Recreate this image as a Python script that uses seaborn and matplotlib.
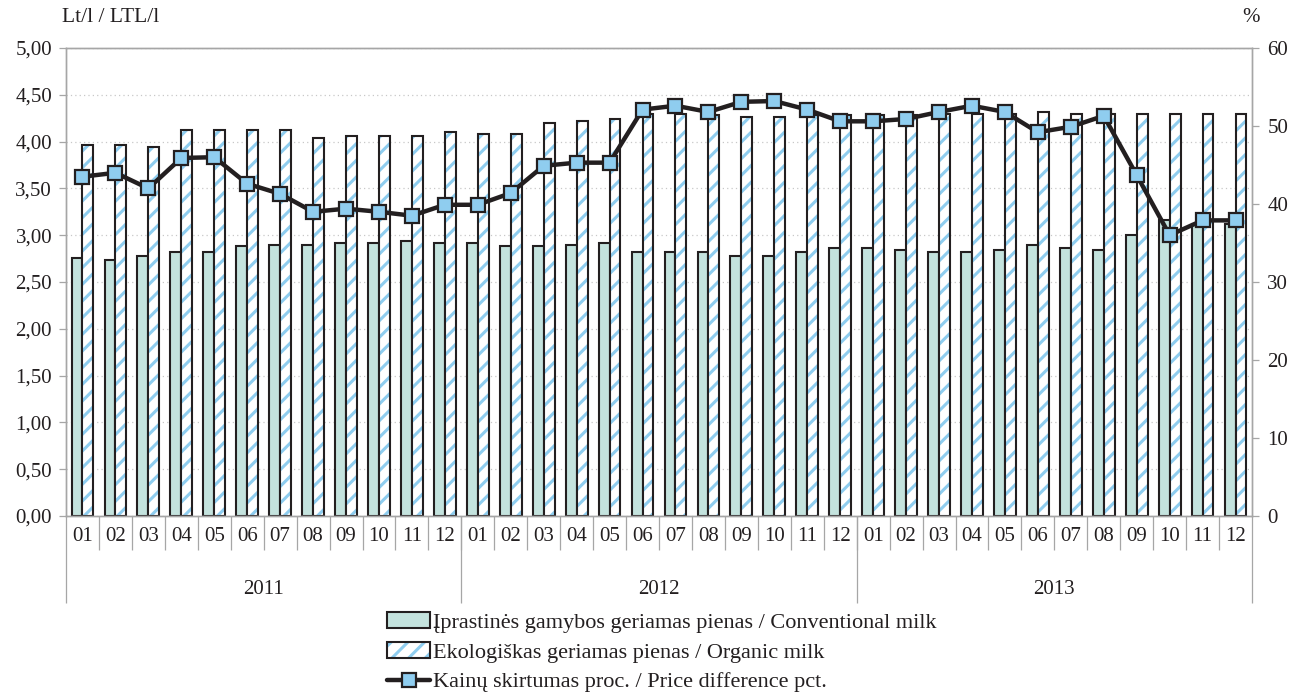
import numpy as np
import pandas as pd
import matplotlib.pyplot as plt
import matplotlib.transforms as mtransforms
from matplotlib.colors import to_rgba
import seaborn as sns

years = ['2011', '2012', '2013']
months = ['01', '02', '03', '04', '05', '06', '07', '08', '09', '10', '11', '12']

conv_name = 'Įprastinės gamybos geriamas pienas / Conventional milk'
org_name = 'Ekologiškas geriamas pienas / Organic milk'
line_name = 'Kainų skirtumas proc. / Price difference pct.'

# Lt/l
conventional = [2.76, 2.74, 2.78, 2.82, 2.82, 2.88, 2.90, 2.90, 2.92, 2.92, 2.94, 2.92,
                2.92, 2.88, 2.88, 2.90, 2.92, 2.82, 2.82, 2.82, 2.78, 2.78, 2.82, 2.86,
                2.86, 2.84, 2.82, 2.82, 2.84, 2.90, 2.86, 2.84, 3.00, 3.16, 3.12, 3.12]
organic = [3.96, 3.96, 3.94, 4.12, 4.12, 4.12, 4.12, 4.04, 4.06, 4.06, 4.06, 4.10,
           4.08, 4.08, 4.20, 4.22, 4.24, 4.29, 4.30, 4.28, 4.26, 4.26, 4.28, 4.28,
           4.28, 4.28, 4.30, 4.30, 4.30, 4.32, 4.30, 4.30, 4.30, 4.30, 4.30, 4.30]
# %
price_diff = [43.5, 44.0, 42.0, 45.9, 46.0, 42.6, 41.3, 39.0, 39.4, 39.0, 38.5, 39.9,
              39.9, 41.4, 44.9, 45.3, 45.3, 52.1, 52.6, 51.8, 53.1, 53.2, 52.1, 50.6,
              50.6, 50.9, 51.8, 52.6, 51.8, 49.2, 49.9, 51.3, 43.7, 36.0, 37.9, 37.9]

periods = [f'{y}-{m}' for y in years for m in months]
n = len(periods)
df = pd.DataFrame({
    'period': periods * 2,
    'price': conventional + organic,
    'series': [conv_name] * n + [org_name] * n,
})

dark = '#231f20'
gray = '#a6a6a6'
teal = '#c4e3de'
blue = '#8fcdef'

sns.set_style('white')
plt.rcParams['font.family'] = ['Liberation Serif', 'DejaVu Serif']
plt.rcParams['font.size'] = 15
plt.rcParams['text.color'] = dark
plt.rcParams['hatch.linewidth'] = 2.2

fig = plt.figure(figsize=(12.92, 6.92), dpi=100)
ax = fig.add_axes([66 / 1292, 1 - 516 / 692, 1186 / 1292, 468 / 692])

sns.barplot(data=df, x='period', y='price', hue='series', order=periods,
            hue_order=[conv_name, org_name], palette=[teal, 'white'],
            width=0.66, saturation=1, errorbar=None, edgecolor=dark,
            linewidth=1.5, ax=ax, legend=False)

# organic bars: light blue stripes inside dark outline
for p in ax.patches[n:2 * n]:
    p.set_hatch('//')
    p._hatch_color = to_rgba(blue)

ax.set_xlim(-0.5, n - 0.5)
ax.set_ylim(0, 5)
ax.set_yticks(np.arange(0, 5.01, 0.5))
ax.set_yticklabels([f'{v:.2f}'.replace('.', ',') for v in np.arange(0, 5.01, 0.5)])
ax.set_xticks(range(n))
ax.set_xticklabels(months * 3)
ax.set_xlabel('')
ax.set_ylabel('')
ax.set_axisbelow(True)
ax.yaxis.grid(True, linestyle=(0, (1, 2.5)), color='#c8c8c8', linewidth=0.9)
ax.tick_params(axis='x', length=0, pad=8, colors=dark)
ax.tick_params(axis='y', length=5, width=0.9, color=gray, labelcolor=dark, pad=5, left=True)
for s in ax.spines.values():
    s.set_color(gray)
    s.set_linewidth(1.0)

ax2 = ax.twinx()
sns.lineplot(x=np.arange(n), y=price_diff, ax=ax2, color=dark, linewidth=3.2,
             marker='s', markersize=10.5, markerfacecolor=blue,
             markeredgecolor=dark, markeredgewidth=1.6, label=line_name)
ax2.get_legend().remove()
ax2.set_ylim(0, 60)
ax2.set_yticks(range(0, 61, 10))
ax2.set_ylabel('')
ax2.tick_params(axis='y', length=5, width=0.9, color=gray, labelcolor=dark, pad=6, right=True)
for s in ax2.spines.values():
    s.set_color(gray)
    s.set_linewidth(1.0)

# two-level category axis
trans = mtransforms.blended_transform_factory(ax.transData, ax.transAxes)
ax.vlines(np.arange(0.5, n - 1, 1), -34 / 468, 0, transform=trans,
          color=gray, linewidth=0.9, clip_on=False)
ax.vlines([-0.5, 11.5, 23.5, n - 0.5], -87 / 468, 0, transform=trans,
          color=gray, linewidth=0.9, clip_on=False)
for i, y in enumerate(years):
    ax.text(12 * i + 5.5, -74 / 468, y, transform=trans, ha='center', va='center')

fig.text(62 / 1292, 1 - 18 / 692, 'Lt/l / LTL/l', ha='left', va='center', fontsize=15.5)
fig.text(1251 / 1292, 1 - 18 / 692, '%', ha='center', va='center')

handles = [ax.patches[0], ax.patches[n], ax2.lines[0]]
fig.legend(handles, [conv_name, org_name, line_name], loc='upper center',
           bbox_to_anchor=(662 / 1292, 1 - 601 / 692), frameon=False,
           fontsize=16, handlelength=1.9, handleheight=0.7, labelspacing=0.42,
           handletextpad=0.15, borderpad=0)

fig.savefig('out.png', dpi=100)
